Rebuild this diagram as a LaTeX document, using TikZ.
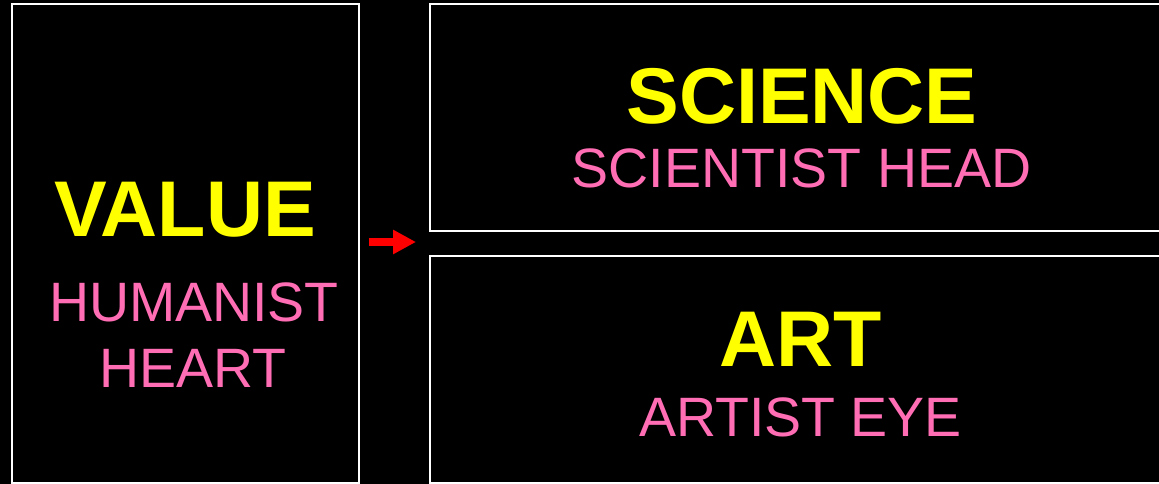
\documentclass[tikz,border=0pt]{standalone}
\usepackage{fontspec}
\setmainfont{Liberation Sans}
\usetikzlibrary{arrows.meta, positioning, calc}
\usepackage{xcolor}
\definecolor{slideyellow}{HTML}{FFFF00}
\definecolor{slidepink}{HTML}{FF6EB4}

\begin{document}
\begin{tikzpicture}[x=1pt, y=-1pt,
  panel/.style={draw=white, line width=2pt, fill=black, inner sep=0pt},
  title/.style={text=slideyellow, font=\fontsize{79}{90}\selectfont\bfseries, anchor=base, inner sep=0pt},
  sub/.style={text=slidepink, font=\fontsize{55.5}{66}\selectfont, anchor=base, inner sep=0pt},
  pointer/.style={draw=red, line width=8pt, -{Triangle[length=23pt, width=23pt]}}]
  \fill[black] (0,0) rectangle (1159,484);
  \useasboundingbox (0,0) rectangle (1159,484);
  % panels
  \node[panel, minimum width=347.5pt, minimum height=478pt] (valuebox) at (185.25,243.5) {};
  \node[panel, minimum width=742pt, minimum height=226pt] (sciencebox) at (801,117.5) {};
  \node[panel, minimum width=742pt, minimum height=227pt, below=23pt of sciencebox] (artbox) {};
  % texts
  \node[title] (value) at (185,236) {VALUE};
  \node[sub] (humanist) at (194,321) {HUMANIST};
  \node[sub] (heart) at (193,387) {HEART};
  \node[title] (science) at (802,124) {SCIENCE};
  \node[sub] (scientist) at (801.5,187) {SCIENTIST HEAD};
  \node[title] (art) at (801,366) {ART};
  \node[sub] (artist) at (800.5,436) {ARTIST EYE};
  % arrow
  \draw[pointer, shorten <=8.5pt, shorten >=13pt] ([yshift=1.5pt]valuebox.east) -- ([yshift=1.5pt]valuebox.east -| sciencebox.west);
\end{tikzpicture}
\end{document}
